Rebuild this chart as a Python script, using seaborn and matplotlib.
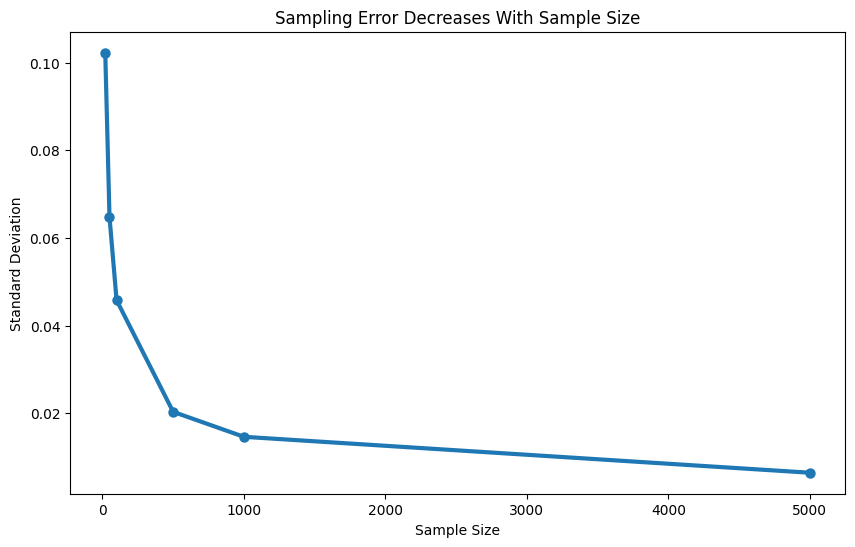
import matplotlib
matplotlib.use("Agg")
import matplotlib.pyplot as plt
import seaborn as sns
import pandas as pd

sample_sizes = [20, 50, 100, 500, 1000, 5000]
std_devs = [0.1023, 0.0648, 0.0458, 0.0203, 0.0146, 0.0064]

df = pd.DataFrame({"Sample Size": sample_sizes, "Standard Deviation": std_devs})

fig, ax = plt.subplots(figsize=(10, 6), dpi=100)
sns.lineplot(data=df, x="Sample Size", y="Standard Deviation", marker="o",
             linewidth=3, markersize=7.5, markeredgewidth=0, color="#1f77b4", ax=ax)
ax.set_title("Sampling Error Decreases With Sample Size")
ax.set_xlabel("Sample Size")
ax.set_ylabel("Standard Deviation")
fig.savefig("out.png", dpi=100, bbox_inches="tight")
